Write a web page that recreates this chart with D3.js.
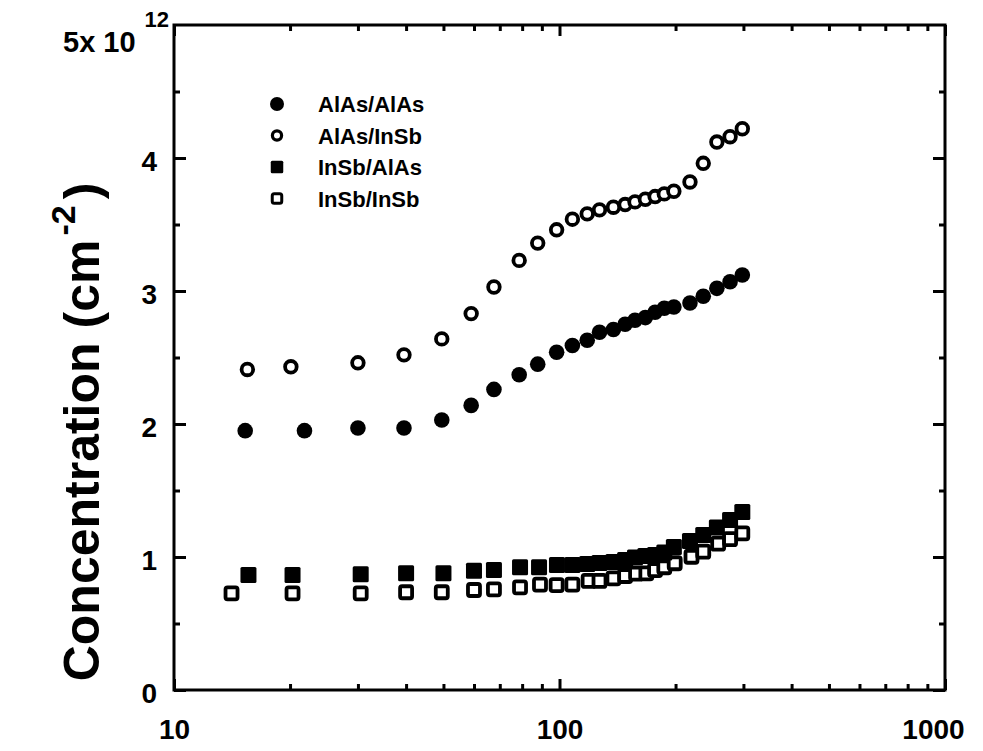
<!DOCTYPE html>
<html>
<head>
<meta charset="utf-8">
<title>Concentration vs temperature</title>
<script src="https://d3js.org/d3.v7.min.js"></script>
<style>
  body { margin: 0; background: #fff; }
  svg text { font-family: "Liberation Sans", Arial, Helvetica, sans-serif; fill: #000; }
  .axis path, .axis line { stroke: #000; stroke-width: 3; }
  .axis text { font-size: 28px; font-weight: bold; }
</style>
</head>
<body>
<script>
// temperatures (x) and sheet concentrations (y, units of 10^12 cm^-2)
const tAlAsAlAs = [15.3, 21.8, 30, 39.5, 49.5, 59, 67.6, 78.6, 87.8, 98.3, 108, 118, 127, 138, 148, 157, 167, 177, 187, 198, 218, 236, 256, 277, 298];
const nAlAsAlAs = [1.95, 1.95, 1.97, 1.97, 2.03, 2.14, 2.26, 2.37, 2.45, 2.54, 2.59, 2.63, 2.69, 2.71, 2.75, 2.78, 2.80, 2.84, 2.87, 2.88, 2.91, 2.96, 3.02, 3.07, 3.12];

const tAlAsInSb = [15.5, 20.1, 30, 39.5, 49.5, 59, 67.6, 78.6, 87.8, 98.3, 108, 118, 127, 138, 148, 157, 167, 177, 187, 198, 218, 236, 256, 277, 298];
const nAlAsInSb = [2.41, 2.43, 2.46, 2.52, 2.64, 2.83, 3.03, 3.23, 3.36, 3.46, 3.54, 3.58, 3.61, 3.63, 3.65, 3.67, 3.69, 3.71, 3.73, 3.75, 3.82, 3.96, 4.12, 4.16, 4.22];

const tInSbAlAs = [15.6, 20.3, 30.5, 40, 50, 60, 67.6, 79, 88.5, 98.5, 108, 118, 127, 138, 148, 157, 167, 177, 187, 198, 218, 236, 256, 277, 298];
const nInSbAlAs = [0.865, 0.865, 0.87, 0.877, 0.877, 0.897, 0.902, 0.923, 0.923, 0.94, 0.94, 0.947, 0.955, 0.962, 0.977, 0.996, 1.008, 1.015, 1.034, 1.075, 1.12, 1.165, 1.222, 1.278, 1.338];

const tInSbInSb = [14.1, 20.3, 30.5, 40, 49.5, 60, 67.6, 79, 89, 98.3, 108, 119, 127, 138, 148, 158, 168, 177, 187, 199, 220, 236, 258, 277, 298];
const nInSbInSb = [0.727, 0.727, 0.727, 0.735, 0.735, 0.752, 0.757, 0.772, 0.793, 0.789, 0.793, 0.82, 0.82, 0.84, 0.857, 0.875, 0.877, 0.902, 0.923, 0.953, 1.002, 1.04, 1.10, 1.134, 1.178];

const seriesNames = ["AlAs/AlAs", "AlAs/InSb", "InSb/AlAs", "InSb/InSb"];

const xMajor = [10, 100, 1000];
const xMinor = [20, 30, 40, 50, 60, 70, 80, 90, 200, 300, 400, 500, 600, 700, 800, 900];
const yMajor = [0, 1, 2, 3, 4];
const yMinor = [0.5, 1.5, 2.5, 3.5, 4.5];

const W = 983, H = 751;
const plotL = 174, plotR = 945, plotT = 25, plotB = 690;

const svg = d3.select("body").append("svg")
    .attr("width", W)
    .attr("height", H);

const x = d3.scaleLog().domain([10, 1000]).range([plotL, plotR]);
const y = d3.scaleLinear().domain([0, 5]).range([plotB, plotT]);

// ticks, all pointing inward
const xLab = svg.append("g").attr("class", "axis")
    .attr("transform", "translate(0," + plotB + ")")
    .call(d3.axisBottom(x).tickValues(xMajor).tickSizeInner(-11).tickSizeOuter(0).tickPadding(29)
        .tickFormat(d3.format("d")));
// the last label sits a little left of its tick
xLab.selectAll(".tick text").filter(d => d === 1000).attr("dx", -12);

svg.append("g").attr("class", "axis")
    .attr("transform", "translate(0," + plotB + ")")
    .call(d3.axisBottom(x).tickValues(xMinor).tickSizeInner(-6).tickSizeOuter(0).tickFormat(""));
svg.append("g").attr("class", "axis")
    .attr("transform", "translate(0," + plotT + ")")
    .call(d3.axisTop(x).tickValues(xMinor).tickSizeInner(-6).tickSizeOuter(0).tickFormat(""));
svg.append("g").attr("class", "axis")
    .attr("transform", "translate(0," + plotT + ")")
    .call(d3.axisTop(x).tickValues(xMajor).tickSizeInner(-11).tickSizeOuter(0).tickFormat(""));

svg.append("g").attr("class", "axis")
    .attr("transform", "translate(" + plotL + ",0)")
    .call(d3.axisLeft(y).tickValues(yMajor).tickSizeInner(-12).tickSizeOuter(0).tickPadding(17)
        .tickFormat(d3.format("d")))
    .selectAll(".tick text").attr("dy", "0.45em");
svg.append("g").attr("class", "axis")
    .attr("transform", "translate(" + plotL + ",0)")
    .call(d3.axisLeft(y).tickValues(yMinor).tickSizeInner(-6).tickSizeOuter(0).tickFormat(""));
svg.append("g").attr("class", "axis")
    .attr("transform", "translate(" + plotR + ",0)")
    .call(d3.axisRight(y).tickValues(yMajor).tickSizeInner(-12).tickSizeOuter(0).tickFormat(""));
svg.append("g").attr("class", "axis")
    .attr("transform", "translate(" + plotR + ",0)")
    .call(d3.axisRight(y).tickValues(yMinor).tickSizeInner(-6).tickSizeOuter(0).tickFormat(""));

svg.selectAll(".axis .domain").remove();

// frame
svg.append("rect")
    .attr("x", plotL).attr("y", plotT)
    .attr("width", plotR - plotL).attr("height", plotB - plotT)
    .attr("fill", "none").attr("stroke", "#000").attr("stroke-width", 3);

// top label 5x10^12
const topLbl = svg.append("text")
    .attr("x", 63).attr("y", 52)
    .style("font-size", "29px").style("font-weight", "bold");
topLbl.append("tspan").text("5x 10");
topLbl.append("tspan").attr("dx", 9).attr("dy", -25).style("font-size", "22px").text("12");

// y title
const yTitle = svg.append("text")
    .attr("transform", "translate(99,432) rotate(-90)")
    .attr("text-anchor", "middle")
    .style("font-size", "50px").style("font-weight", "bold");
yTitle.append("tspan").text("Concentration (cm");
yTitle.append("tspan").attr("dy", -24).attr("dx", 4).style("font-size", "34px").text("-2");
yTitle.append("tspan").attr("dy", 24).attr("dx", 6).text(")");

// markers
function filledCircle(g, cx, cy, r) {
  g.append("circle").attr("cx", cx).attr("cy", cy).attr("r", r).attr("fill", "#000");
}
function openCircle(g, cx, cy, r, sw) {
  g.append("circle").attr("cx", cx).attr("cy", cy).attr("r", r)
      .attr("fill", "#fff").attr("stroke", "#000").attr("stroke-width", sw);
}
function filledSquare(g, cx, cy, s) {
  g.append("rect").attr("x", cx - s / 2).attr("y", cy - s / 2).attr("width", s).attr("height", s)
      .attr("rx", 1.5).attr("fill", "#000");
}
function openSquare(g, cx, cy, s, sw) {
  g.append("rect").attr("x", cx - s / 2).attr("y", cy - s / 2).attr("width", s).attr("height", s)
      .attr("rx", 2).attr("fill", "#fff").attr("stroke", "#000").attr("stroke-width", sw);
}

const marks = svg.append("g");
tInSbInSb.forEach((t, i) => openSquare(marks, x(t), y(nInSbInSb[i]), 12, 3.8));
tInSbAlAs.forEach((t, i) => filledSquare(marks, x(t), y(nInSbAlAs[i]), 16));
tAlAsAlAs.forEach((t, i) => filledCircle(marks, x(t), y(nAlAsAlAs[i]), 7.8));
tAlAsInSb.forEach((t, i) => openCircle(marks, x(t), y(nAlAsInSb[i]), 5.8, 3.8));

// legend
const legend = svg.append("g");
const legX = 277, legY0 = 104, legDy = 31.5;
filledCircle(legend, legX, legY0, 7);
openCircle(legend, legX, legY0 + legDy, 4.6, 3.2);
filledSquare(legend, legX, legY0 + 2 * legDy, 12.5);
openSquare(legend, legX, legY0 + 3 * legDy, 9.5, 3);
seriesNames.forEach((name, i) => {
  legend.append("text")
      .attr("x", 318).attr("y", legY0 + i * legDy + 8)
      .style("font-size", "22px").style("font-weight", "bold")
      .text(name);
});
</script>
</body>
</html>
